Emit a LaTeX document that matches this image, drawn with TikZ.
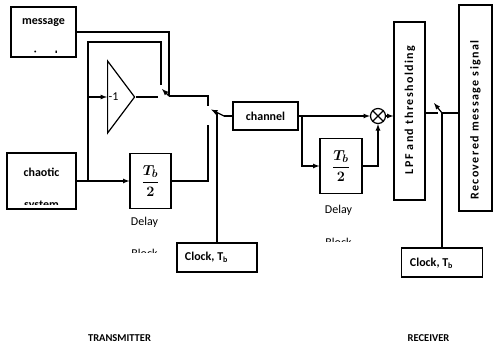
\documentclass[tikz,border=0pt]{standalone}
\usepackage{amsmath}
\usepackage{bm}
\usepackage{fontspec}
\setmainfont{Carlito}
\newfontfamily\spacedfont[LetterSpace=12]{Carlito}
\usetikzlibrary{shapes}
\usetikzlibrary{arrows}
\usetikzlibrary{positioning}
\usetikzlibrary{calc}

\begin{document}
\begin{tikzpicture}[x=1pt, y=-1pt, very thick,
                    block node/.style={rectangle,draw,inner sep=0pt},
                    label node/.style={font=\fontsize{12}{14}\selectfont\bfseries,inner sep=0pt},
                    note node/.style={font=\fontsize{12}{14}\selectfont,inner sep=0pt},
                    side node/.style={font=\fontsize{12}{14}\selectfont\spacedfont\bfseries,rotate=90,inner sep=0pt},
                    title node/.style={font=\fontsize{10.5}{12}\selectfont\bfseries,inner sep=0pt},
                    frac node/.style={block node,font=\fontsize{15}{18}\selectfont}]

  \useasboundingbox (0,0) rectangle (493,349);

  % transmitter
  \node[block node, minimum width=65pt, minimum height=50pt] (msg) at (43.5,32) {};
  \node[label node] (msgtxt) at (43.5,23) {message};
  \begin{scope}
    \clip (12,8) rectangle (75,52.5);
    \node[label node, anchor=base] (msgmore) at (43.5,59.5) {signal};
  \end{scope}

  \node[block node, minimum width=69pt, minimum height=56pt] (chaos) at (41.5,181) {};
  \node[label node] (chaostxt) at (41.5,172) {chaotic};
  \begin{scope}
    \clip (8,154) rectangle (75,204);
    \node[label node, anchor=base] (chaosmore) at (41.5,208) {system};
  \end{scope}

  \node[frac node, minimum width=41pt, minimum height=55pt] (dly1) at (150.5,181) {$\bm{\dfrac{T_b}{2}}$};
  \node[note node] (dly1txt) at (144.5,222) {Delay};
  \begin{scope}
    \clip (100,240) rectangle (175,252);
    \node[note node, anchor=base] (dly1more) at (144.5,257.5) {Block};
  \end{scope}

  \node[draw, isosceles triangle, isosceles triangle stretches, minimum width=72pt,
        minimum height=27pt, inner sep=0pt, anchor=lower side] (amp) at (107,97) {};
  \node[note node] (amptxt) at (113.5,97) {-1};

  \node[block node, minimum width=80pt, minimum height=29pt] (clk1) at (217,257.5) {};
  \node[label node] (clk1txt) at (206.5,257.5) {Clock, T\textsubscript{b}};

  \coordinate (split1) at (88,181);
  \coordinate (looptop) at (88,42);
  \coordinate (c1top) at (161,85);
  \coordinate (c1left) at (158,97);
  \coordinate (sw1) at (169,96);
  \coordinate (c1arm) at (162,89);
  \coordinate (c2top) at (208,106);
  \coordinate (c2bot) at (208,125);
  \coordinate (sw2) at (224,116);
  \coordinate (c2arm) at (211,109.5);
  \coordinate (clk1end) at (217,112.5);

  \draw[-latex] (chaos.east) -- (dly1.west);
  \draw (split1) -- (looptop) -| (c1top);
  \draw[-latex] (split1 |- amp.lower side) -- (amp.lower side);
  \draw (amp.apex) -- (c1left);
  \draw (msg.east) -| (sw1);
  \draw[-latex] (sw1) -- (c1arm);
  \draw (sw1) -| (c2top);
  \draw (dly1.east) -| (c2bot);
  \draw[-latex] (sw2) -- (c2arm);
  \draw (clk1.north) -- (clk1end);

  % receiver
  \node[block node, minimum width=65pt, minimum height=28pt, font=\fontsize{12}{14}\selectfont\bfseries] (chan) at (265.5,116) {channel};
  \node[circle, draw, minimum size=15pt, inner sep=0pt] (mult) at (378,116) {};
  \draw (mult.north west) -- (mult.south east) (mult.north east) -- (mult.south west);

  \node[frac node, minimum width=42pt, minimum height=55pt] (dly2) at (341,166) {$\bm{\dfrac{T_b}{2}}$};
  \node[note node] (dly2txt) at (338.5,210) {Delay};
  \begin{scope}
    \clip (300,230) rectangle (380,241);
    \node[note node, anchor=base] (dly2more) at (338.5,246.5) {Block};
  \end{scope}

  \node[block node, minimum width=31pt, minimum height=178pt] (lpf) at (409.5,111) {};
  \node[side node] (lpftxt) at (410,110) {LPF and thresholding};

  \node[block node, minimum width=33pt, minimum height=206pt] (rec) at (475.5,108) {};
  \node[side node] (rectxt) at (475.5,120) {Recovered message signal};

  \node[block node, minimum width=81pt, minimum height=29pt] (clk2) at (442,262.5) {};
  \node[label node] (clk2txt) at (431.5,263) {Clock, T\textsubscript{b}};

  \coordinate (split2) at (302,116);
  \coordinate (c3) at (438,113);
  \coordinate (sw3) at (442,113);
  \coordinate (c3arm) at (434,103);

  \draw (chan.west) -- (sw2);
  \draw[-latex] (chan.east) -- (mult.west);
  \draw[-latex] (split2) |- (dly2.west);
  \draw[-latex] (dly2.east) -| (mult.south);
  \draw[-latex] (mult.east) -- (mult.east -| lpf.west);
  \draw (c3 -| lpf.east) -- (c3);
  \draw (rec.west |- sw3) -- (sw3);
  \draw[-latex] (sw3) -- (c3arm);
  \draw (clk2.north) -- (sw3);

  \node[title node] (txlabel) at (119.5,338) {TRANSMITTER};
  \node[title node] (rxlabel) at (428.5,338) {RECEIVER};

\end{tikzpicture}
\end{document}
